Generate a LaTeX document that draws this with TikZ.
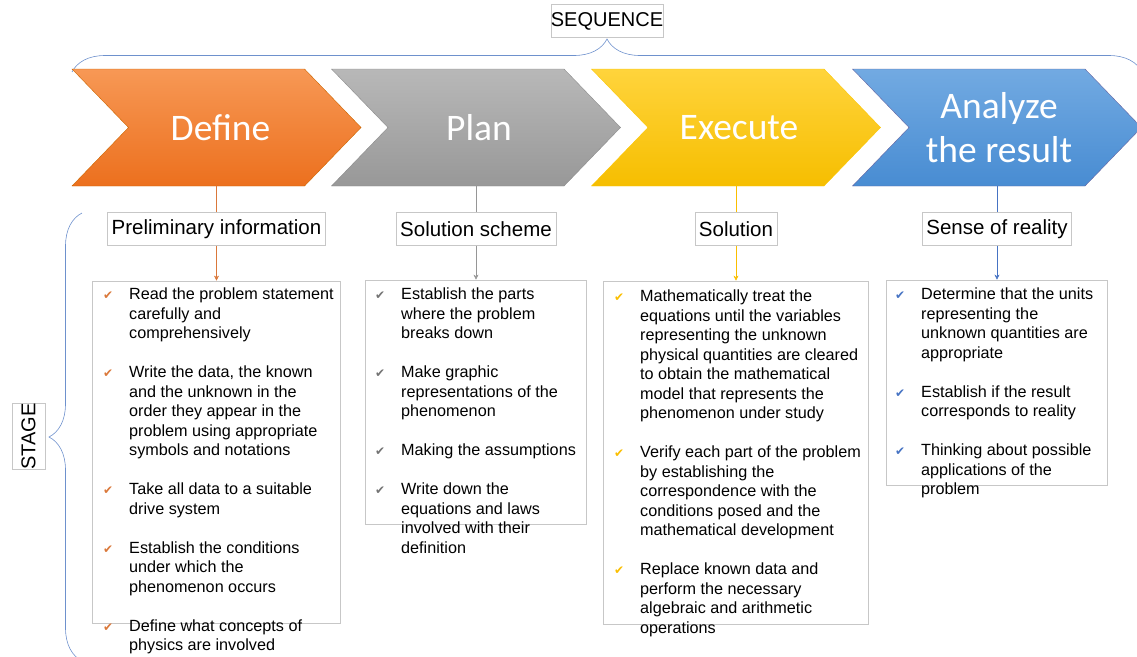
\documentclass[tikz,border=0pt]{standalone}
\usepackage{fontspec}
\setmainfont{Liberation Sans}
\newfontfamily\chevronfont{Carlito}
\newfontfamily\checkfont{DejaVu Sans}
\usetikzlibrary{positioning}
\usetikzlibrary{shapes.symbols}
\usetikzlibrary{arrows.meta}
\usetikzlibrary{decorations.pathreplacing}
\definecolor{defline}{RGB}{218,120,58}
\definecolor{planline}{RGB}{150,150,150}
\definecolor{execline}{RGB}{250,190,0}
\definecolor{anaLine}{RGB}{70,115,195}
\definecolor{braceblue}{RGB}{110,145,205}
\newcommand{\stepcheck}[1]{{\checkfont\fontsize{12}{12}\selectfont\textcolor{#1}{✔}}}
\tikzset{
  chevron/.style   = { signal, signal from=west, signal to=east, signal pointer angle=92,
                       minimum width=289pt, minimum height=117pt, inner sep=0pt, align=center,
                       text=white, font=\chevronfont\fontsize{37.5}{44}\selectfont },
  heading/.style   = { rectangle, draw=black!22, fill=white, inner xsep=4pt,
                       minimum height=33pt, font=\fontsize{20.5}{24}\selectfont },
  tagbox/.style    = { rectangle, draw=black!22, inner xsep=0pt,
                       minimum height=33pt, font=\fontsize{20}{24}\selectfont },
  listbox/.style   = { rectangle, draw=black!22, inner sep=0pt },
  listtext/.style  = { anchor=north west, inner sep=0pt, font=\fontsize{16.2}{19.5}\selectfont },
  sidebrace/.style = { decorate, decoration={brace, amplitude=33pt}, draw=braceblue, semithick },
  tip/.style       = { -{Stealth[length=5pt,width=5pt]} }
}
\begin{document}
\begin{tikzpicture}[x=1pt,y=-1pt,thin]
  \useasboundingbox (0,0) rectangle (1137,656);

  \draw [sidebrace] (72,72) -- (1142,72);
  \draw [sidebrace] (82,661) -- (82,213);
  \node (sequence) [tagbox] at (607,21) {SEQUENCE};
  \node (stage) [tagbox,rotate=90] at (28.5,436.5) {STAGE};

  \node (define)  [chevron,draw=orange!80!black,top color={rgb,255:red,247;green,152;blue,85},
                   bottom color={rgb,255:red,236;green,112;blue,30}] at (216.5,127.5) {\hspace*{8pt}Define};
  \node (plan)    [chevron,draw=black!45,top color={rgb,255:red,184;green,184;blue,184},
                   bottom color={rgb,255:red,152;green,152;blue,152}] at (476,127.5) {\hspace*{6pt}Plan};
  \node (execute) [chevron,draw=yellow!60!orange,top color={rgb,255:red,255;green,212;blue,60},
                   bottom color={rgb,255:red,246;green,190;blue,0}] at (736,127.5) {\hspace*{6pt}Execute};
  \node (analyze) [chevron,draw=blue!40!black!60,top color={rgb,255:red,114;green,170;blue,226},
                   bottom color={rgb,255:red,72;green,140;blue,210}] at (997,127.5) {\hspace*{4pt}Analyze\\\hspace*{4pt}the result};

  \node (definfo) [heading,below=26pt of define]  {Preliminary information};
  \node (planinfo) [heading,below=26pt of plan]   {Solution scheme};
  \node (execinfo) [heading,below=26pt of execute] {Solution};
  \node (anainfo) [heading,below=26pt of analyze] {Sense of reality};

  \node (deflist)  [listbox,below=35pt of definfo,minimum width=248pt,minimum height=342pt]  {};
  \node (planlist) [listbox,below=34pt of planinfo,minimum width=221pt,minimum height=244pt] {};
  \node (execlist) [listbox,below=35pt of execinfo,minimum width=265pt,minimum height=343pt] {};
  \node (analist)  [listbox,below=34pt of anainfo,minimum width=221pt,minimum height=205pt]  {};

  \draw [defline]       (define.south)  -- (definfo.north);
  \draw [defline,tip]   (definfo)       -- (deflist);
  \draw [planline]      (plan.south)    -- (planinfo.north);
  \draw [planline,tip]  (planinfo)      -- (planlist);
  \draw [execline]      (execute.south) -- (execinfo.north);
  \draw [execline,tip]  (execinfo)      -- (execlist);
  \draw [anaLine]       (analyze.south) -- (anainfo.north);
  \draw [anaLine,tip]   (anainfo)       -- (analist);

  \node (defsteps) [listtext] at (103,286) {\begin{tabular}{@{}p{26pt}@{}l@{}}
    \stepcheck{defline} & Read the problem statement\\
      & carefully and\\
      & comprehensively\\[19.5pt]
    \stepcheck{defline} & Write the data, the known\\
      & and the unknown in the\\
      & order they appear in the\\
      & problem using appropriate\\
      & symbols and notations\\[19.5pt]
    \stepcheck{defline} & Take all data to a suitable\\
      & drive system\\[19.5pt]
    \stepcheck{defline} & Establish the conditions\\
      & under which the\\
      & phenomenon occurs\\[19.5pt]
    \stepcheck{defline} & Define what concepts of\\
      & physics are involved
  \end{tabular}};
  \node (plansteps) [listtext] at (375,286) {\begin{tabular}{@{}p{26pt}@{}l@{}}
    \stepcheck{black!55} & Establish the parts\\
      & where the problem\\
      & breaks down\\[19.5pt]
    \stepcheck{black!55} & Make graphic\\
      & representations of the\\
      & phenomenon\\[19.5pt]
    \stepcheck{black!55} & Making the assumptions\\[19.5pt]
    \stepcheck{black!55} & Write down the\\
      & equations and laws\\
      & involved with their\\
      & definition
  \end{tabular}};
  \node (execsteps) [listtext] at (614,288) {\begin{tabular}{@{}p{26pt}@{}l@{}}
    \stepcheck{execline} & Mathematically treat the\\
      & equations until the variables\\
      & representing the unknown\\
      & physical quantities are cleared\\
      & to obtain the mathematical\\
      & model that represents the\\
      & phenomenon under study\\[19.5pt]
    \stepcheck{execline} & Verify each part of the problem\\
      & by establishing the\\
      & correspondence with the\\
      & conditions posed and the\\
      & mathematical development\\[19.5pt]
    \stepcheck{execline} & Replace known data and\\
      & perform the necessary\\
      & algebraic and arithmetic\\
      & operations
  \end{tabular}};
  \node (anasteps) [listtext] at (895,286) {\begin{tabular}{@{}p{26pt}@{}l@{}}
    \stepcheck{anaLine} & Determine that the units\\
      & representing the\\
      & unknown quantities are\\
      & appropriate\\[19.5pt]
    \stepcheck{anaLine} & Establish if the result\\
      & corresponds to reality\\[19.5pt]
    \stepcheck{anaLine} & Thinking about possible\\
      & applications of the\\
      & problem
  \end{tabular}};
\end{tikzpicture}
\end{document}
